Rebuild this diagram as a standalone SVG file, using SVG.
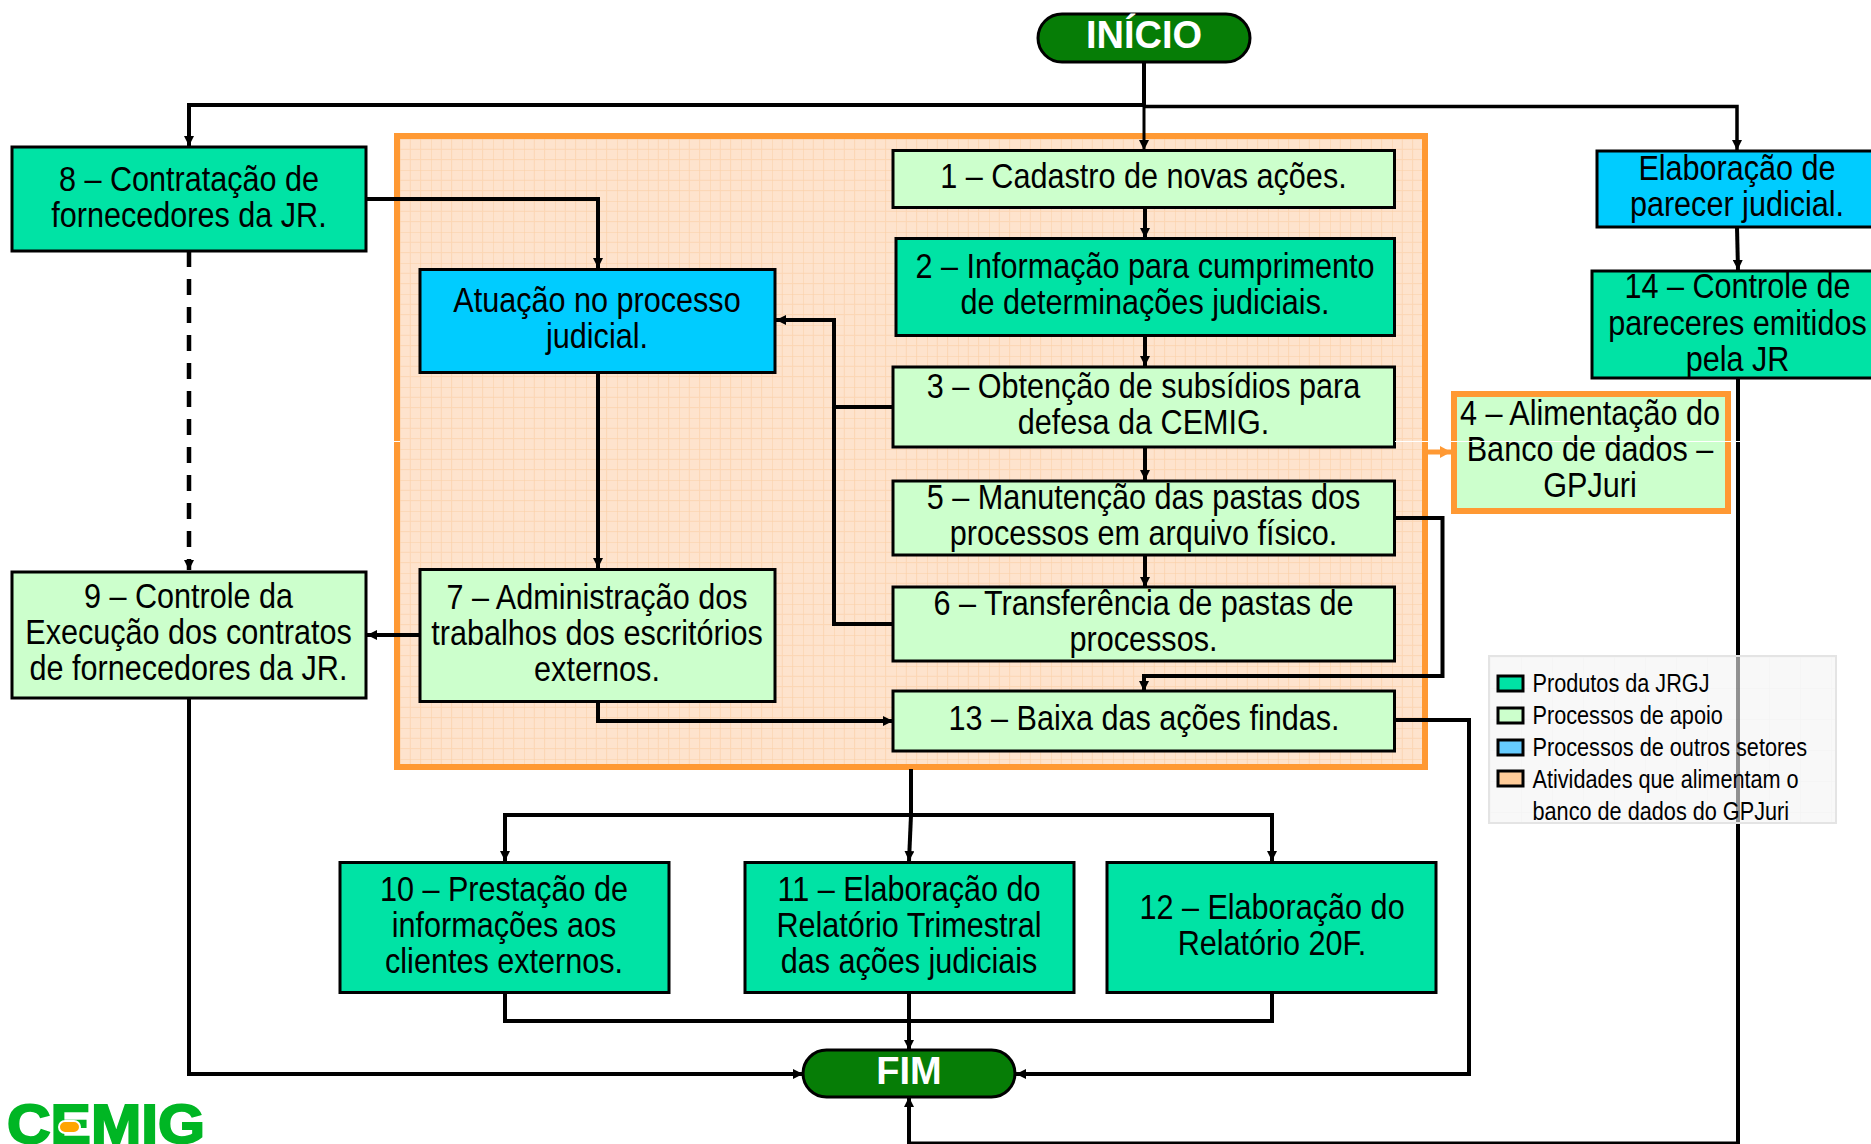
<svg xmlns="http://www.w3.org/2000/svg" width="1871" height="1144" viewBox="0 0 1871 1144">
<defs>
<pattern id="grid" width="31" height="31" patternUnits="userSpaceOnUse" x="400" y="139">
<rect width="31" height="31" fill="#fee3cd"/>
<path d="M10.3 0V31M20.6 0V31M0 10.3H31M0 20.6H31" stroke="#fcd6b4" stroke-width="1" fill="none"/>
<path d="M0 0V31M0 0H31" stroke="#fbd0a6" stroke-width="1" fill="none"/>
</pattern>
<pattern id="lgrid" width="31" height="31" patternUnits="userSpaceOnUse" x="1490" y="657">
<rect width="31" height="31" fill="#f4f4f4"/>
<path d="M0 0V31M0 0H31" stroke="#ebebeb" stroke-width="1" fill="none"/>
</pattern>
<marker id="a" markerWidth="11" markerHeight="10" refX="10" refY="5" orient="auto" markerUnits="userSpaceOnUse"><path d="M0 0L10 5L0 10Z" fill="#000"/></marker>
<marker id="o" markerWidth="14" markerHeight="12" refX="11" refY="6" orient="auto" markerUnits="userSpaceOnUse"><path d="M0 0L11 6L0 12Z" fill="#ff9933"/></marker>
</defs>
<style>
.b{stroke:#000;stroke-width:3}
.n{fill:#00e3a5}.s{fill:#ccffcc}.c{fill:#00ccff}
text{font-family:"Liberation Sans",Arial,sans-serif;fill:#000}
.t{font-size:36px;text-anchor:middle}
.l{font-size:25.5px}
.w{font-size:38px;font-weight:bold;fill:#fff;text-anchor:middle}
.e{fill:none;stroke:#000;stroke-width:4}
.m{marker-end:url(#a)}
</style>
<rect id="panel" x="397" y="136" width="1028" height="631" fill="url(#grid)" stroke="#ff9933" stroke-width="6"/>
<g id="connectors">
<path class="e" d="M1144 62V105"/>
<path class="e m" style="stroke-width:3" d="M1144 105V150"/>
<path class="e m" d="M1144 105H189V146"/>
<path class="e m" style="stroke-width:3.5" d="M1144 106.500H1737V150"/>
<path class="e m" d="M1737 227L1738 270"/>
<path class="e m" d="M366 199H598V268"/>
<path class="e m" d="M598 372V568"/>
<path class="e m" style="stroke-width:4.500;stroke-dasharray:16 12" d="M189 251V570"/>
<path class="e m" d="M420 635H367"/>
<path class="e m" d="M893 407H834V320H776"/>
<path class="e" d="M893 624H834V407"/>
<path class="e m" d="M1145 207V238"/>
<path class="e m" d="M1145 335V366"/>
<path class="e m" d="M1145 447V480"/>
<path class="e m" d="M1145 555V587"/>
<path class="e m" d="M1395 518H1442.500V676H1144V691"/>
<path class="e m" d="M598 701V721H893"/>
<path class="e" d="M911 769V815"/>
<path class="e m" d="M911 815H505V861"/>
<path class="e m" d="M911 815L909 861"/>
<path class="e m" d="M911 815H1272V861"/>
<path class="e" d="M505 992V1021H1272V992"/>
<path class="e" d="M909 992V1021"/>
<path class="e m" d="M909 1021V1050"/>
<path class="e m" d="M189 698V1074H803"/>
<path class="e m" d="M1395 720H1469V1074H1016"/>
<path class="e" d="M1738 378V1144"/>
<path class="e m" d="M1738 1143.500H909V1097"/>
<path d="M1428 452H1451" stroke="#ff9933" stroke-width="5" fill="none" marker-end="url(#o)"/>
</g>
<g id="inicio"><rect x="1038" y="14" width="212" height="48" rx="24" fill="#067d06" stroke="#000" stroke-width="3"/><text class="w" x="1144" y="48">INÍCIO</text></g>
<g id="fim"><rect x="803" y="1050" width="212" height="47" rx="23.500" fill="#067d06" stroke="#000" stroke-width="3"/><text class="w" x="909" y="1084">FIM</text></g>
<g id="n8"><rect class="b n" x="12" y="147" width="354" height="104"/><text class="t" transform="translate(189,191) scale(.85,1)">8 – Contratação de</text><text class="t" transform="translate(189,227) scale(.85,1)">fornecedores da JR.</text></g>
<g id="natu"><rect class="b c" x="420" y="269.500" width="355" height="103"/><text class="t" transform="translate(597,312) scale(.85,1)">Atuação no processo</text><text class="t" transform="translate(597,348) scale(.85,1)">judicial.</text></g>
<g id="n1"><rect class="b s" x="893" y="150.500" width="501.500" height="57"/><text class="t" transform="translate(1143.500,188) scale(.85,1)">1 – Cadastro de novas ações.</text></g>
<g id="n2"><rect class="b n" x="896" y="238.500" width="498.500" height="97"/><text class="t" transform="translate(1145,278) scale(.85,1)">2 – Informação para cumprimento</text><text class="t" transform="translate(1145,314) scale(.85,1)">de determinações judiciais.</text></g>
<g id="n3"><rect class="b s" x="893" y="367" width="501.500" height="80"/><text class="t" transform="translate(1143.500,398) scale(.85,1)">3 – Obtenção de subsídios para</text><text class="t" transform="translate(1143.500,434) scale(.85,1)">defesa da CEMIG.</text></g>
<g id="n5"><rect class="b s" x="893" y="481" width="501.500" height="74"/><text class="t" transform="translate(1143.500,509) scale(.85,1)">5 – Manutenção das pastas dos</text><text class="t" transform="translate(1143.500,545) scale(.85,1)">processos em arquivo físico.</text></g>
<g id="n6"><rect class="b s" x="893" y="587" width="501.500" height="74"/><text class="t" transform="translate(1143.500,615) scale(.85,1)">6 – Transferência de pastas de</text><text class="t" transform="translate(1143.500,651) scale(.85,1)">processos.</text></g>
<g id="n13"><rect class="b s" x="893" y="691" width="501.500" height="60"/><text class="t" transform="translate(1144,730) scale(.85,1)">13 – Baixa das ações findas.</text></g>
<g id="n7"><rect class="b s" x="420" y="569.500" width="355" height="132"/><text class="t" transform="translate(597,609) scale(.85,1)">7 – Administração dos</text><text class="t" transform="translate(597,645) scale(.85,1)">trabalhos dos escritórios</text><text class="t" transform="translate(597,681) scale(.85,1)">externos.</text></g>
<g id="n9"><rect class="b s" x="12" y="572" width="354" height="126"/><text class="t" transform="translate(188.500,608) scale(.85,1)">9 – Controle da</text><text class="t" transform="translate(188.500,644) scale(.85,1)">Execução dos contratos</text><text class="t" transform="translate(188.500,680) scale(.85,1)">de fornecedores da JR.</text></g>
<g id="n10"><rect class="b n" x="340" y="862.500" width="329" height="130"/><text class="t" transform="translate(504,901) scale(.85,1)">10 – Prestação de</text><text class="t" transform="translate(504,937) scale(.85,1)">informações aos</text><text class="t" transform="translate(504,973) scale(.85,1)">clientes externos.</text></g>
<g id="n11"><rect class="b n" x="745" y="862.500" width="329" height="130"/><text class="t" transform="translate(909,901) scale(.85,1)">11 – Elaboração do</text><text class="t" transform="translate(909,937) scale(.85,1)">Relatório Trimestral</text><text class="t" transform="translate(909,973) scale(.85,1)">das ações judiciais</text></g>
<g id="n12"><rect class="b n" x="1107" y="862.500" width="329" height="130"/><text class="t" transform="translate(1272,919) scale(.85,1)">12 – Elaboração do</text><text class="t" transform="translate(1272,955) scale(.85,1)">Relatório 20F.</text></g>
<g id="npar"><rect class="b c" x="1597" y="151" width="280" height="76"/><text class="t" transform="translate(1737,180) scale(.85,1)">Elaboração de</text><text class="t" transform="translate(1737,216) scale(.85,1)">parecer judicial.</text></g>
<g id="n14"><rect class="b n" x="1592" y="271" width="290" height="107"/><text class="t" transform="translate(1737.500,298) scale(.85,1)">14 – Controle de</text><text class="t" transform="translate(1737.500,335) scale(.85,1)">pareceres emitidos</text><text class="t" transform="translate(1737.500,371) scale(.85,1)">pela JR</text></g>
<g id="n4"><rect x="1454" y="394" width="274" height="117" fill="#ccffcc" stroke="#ff9933" stroke-width="6"/><text class="t" transform="translate(1590,425) scale(.85,1)">4 – Alimentação do</text><text class="t" transform="translate(1590,461) scale(.85,1)">Banco de dados –</text><text class="t" transform="translate(1590,497) scale(.85,1)">GPJuri</text></g>
<path id="seam" d="M394 441.500H400M1395 441.500H1740" stroke="#fff" stroke-width="1" fill="none"/>
<g id="legend">
<rect x="1489" y="656" width="347" height="167" fill="url(#lgrid)" fill-opacity=".6" stroke="#e4e4e4" stroke-width="2"/>
<rect class="b" x="1498" y="676" width="25" height="15" fill="#00e3a5"/>
<rect class="b" x="1498" y="708" width="25" height="15" fill="#ccffcc"/>
<rect class="b" x="1498" y="740" width="25" height="15" fill="#66ccff"/>
<rect class="b" x="1498" y="771" width="25" height="15" fill="#ffcc99"/>
<text class="l" transform="translate(1532.500,692) scale(.85,1)">Produtos da JRGJ</text>
<text class="l" transform="translate(1532.500,724) scale(.85,1)">Processos de apoio</text>
<text class="l" transform="translate(1532.500,756) scale(.85,1)">Processos de outros setores</text>
<text class="l" transform="translate(1532.500,788) scale(.85,1)">Atividades que alimentam o</text>
<text class="l" transform="translate(1532.500,820) scale(.85,1)">banco de dados do GPJuri</text>
</g>
<g id="logo"><text x="7" y="1143" font-size="55" font-weight="bold" textLength="198" lengthAdjust="spacingAndGlyphs" style="fill:#00b624;stroke:#00b624;stroke-width:2">CEMIG</text><rect x="59" y="1121" width="21" height="12" rx="6" fill="#ffa500" stroke="#fff" stroke-width="2"/></g>
</svg>
